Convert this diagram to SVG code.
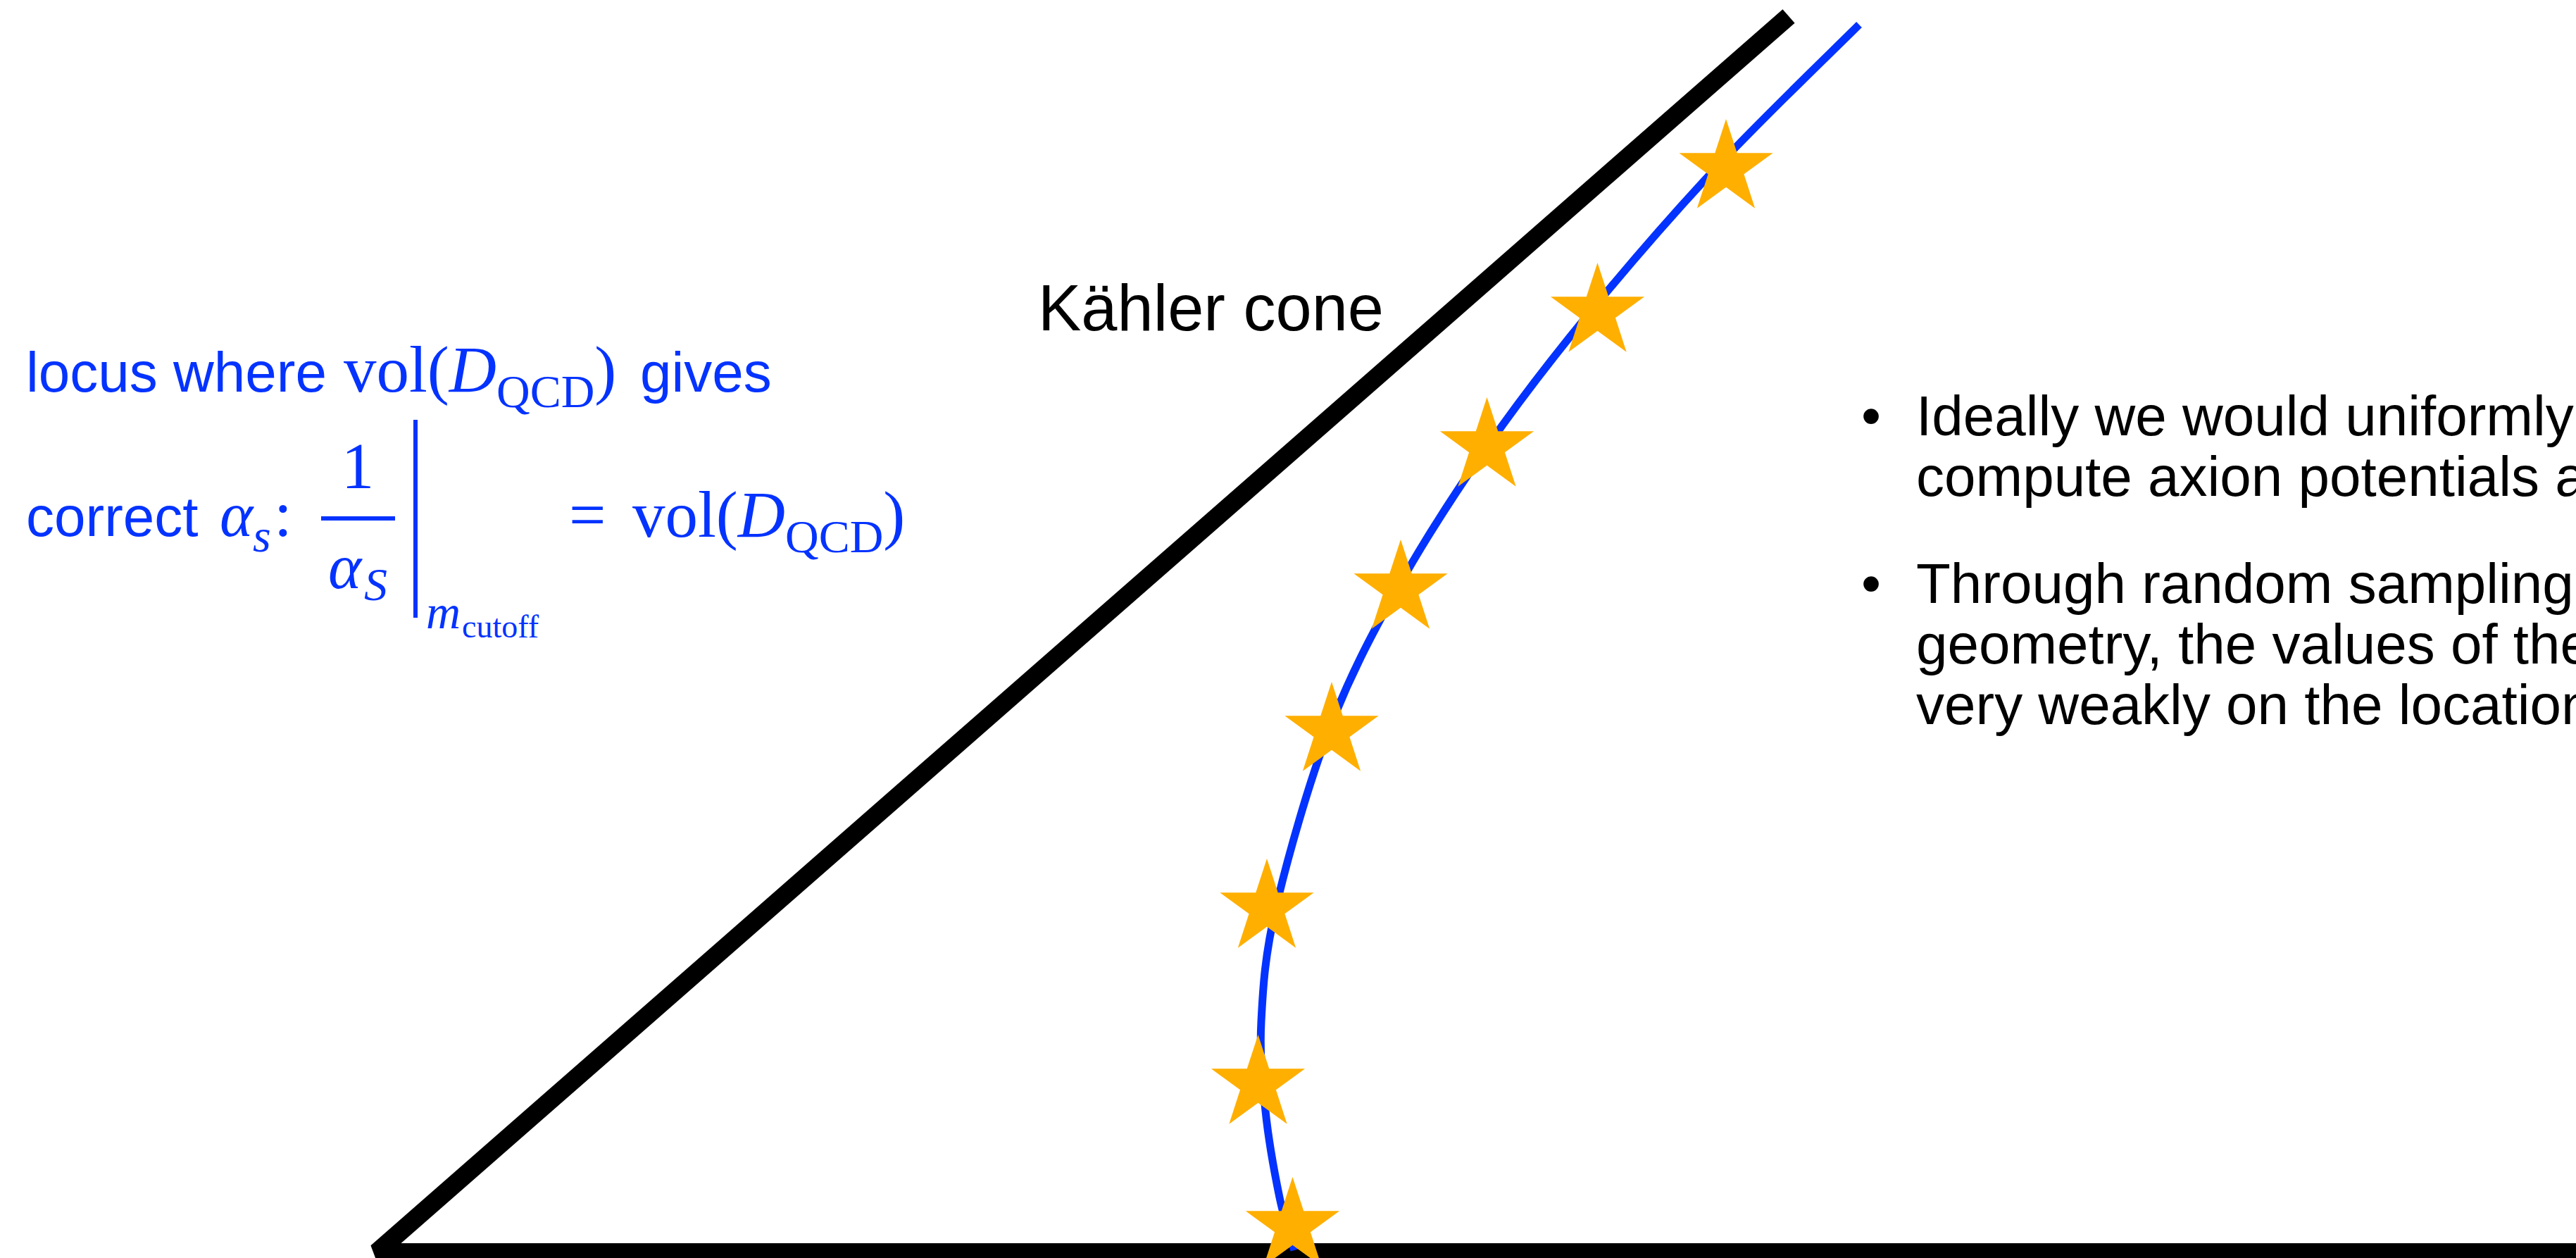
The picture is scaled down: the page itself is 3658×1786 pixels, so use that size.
<svg xmlns="http://www.w3.org/2000/svg" xmlns:xlink="http://www.w3.org/1999/xlink" width="3658" height="1786" viewBox="0 0 3658 1786">
<style>
.sans{font-family:"Liberation Sans",Arial,sans-serif;}
.serif{font-family:"Liberation Serif","Times New Roman",serif;}
.it{font-style:italic;}
.blue{fill:#0433FF;}
.blk{fill:#000000;}
.cone{fill:none;stroke:#000;stroke-width:26;stroke-linejoin:bevel;}
.locus{fill:none;stroke:#0433FF;stroke-width:11;stroke-linecap:butt;}
.star{fill:#FFAF00;}
</style>
<defs>
<polygon id="star" points="0,-70 15.72,-21.63 66.57,-21.63 25.43,8.26 41.14,56.63 0,26.74 -41.14,56.63 -25.43,8.26 -66.57,-21.63 -15.72,-21.63"/>
</defs>
<rect width="3658" height="1786" fill="#ffffff"/>

<g id="connectors">
<polyline id="kahler-cone-boundary" class="cone" points="2540,23 535,1778 3700,1778"/>
<path id="locus-curve" class="locus" d="M2640,35 C2606.7,68.3 2503.7,167 2440,235 C2376.3,303 2312.7,376.5 2258,443 C2203.3,509.5 2157.7,568.5 2112,634 C2066.3,699.5 2021.5,768.8 1984,836 C1946.5,903.2 1915.7,961.7 1887,1037 C1858.3,1112.3 1828,1219.2 1812,1288 C1796,1356.8 1793.5,1401.8 1791,1450 C1788.5,1498.2 1792.7,1535.3 1797,1577 C1801.3,1618.7 1810.3,1667.5 1817,1700 C1823.7,1732.5 1834,1762 1838,1775"/>
</g>

<g id="stars">
<use xlink:href="#star" class="star" x="2451" y="239"/>
<use xlink:href="#star" class="star" x="2268.5" y="443"/>
<use xlink:href="#star" class="star" x="2111.5" y="634"/>
<use xlink:href="#star" class="star" x="1989" y="836"/>
<use xlink:href="#star" class="star" x="1891" y="1038"/>
<use xlink:href="#star" class="star" x="1799" y="1289"/>
<use xlink:href="#star" class="star" x="1786.5" y="1539"/>
<use xlink:href="#star" class="star" x="1835.5" y="1741"/>
</g>

<g id="kahler-label">
<text class="sans blk" x="1474" y="469" font-size="92">Kähler cone</text>
</g>

<g id="locus-label">
<text class="sans blue" x="37" y="556" font-size="80">locus where</text>
<text class="serif blue" x="488" y="556" font-size="93">vol(<tspan class="it">D</tspan><tspan font-size="66" dy="22">QCD</tspan><tspan dy="-22">)</tspan></text>
<text class="sans blue" x="909" y="556" font-size="80">gives</text>

<text class="sans blue" x="37" y="761" font-size="80">correct</text>
<text class="serif it blue" x="312" y="761" font-size="90">α</text>
<text class="serif it blue" x="359" y="783" font-size="66">s</text>
<text class="serif blue" x="389" y="761" font-size="93">:</text>
<text class="serif blue" x="508" y="693" font-size="93" text-anchor="middle">1</text>
<rect class="blue" x="456" y="733" width="105" height="6"/>
<text class="serif it blue" x="466" y="835" font-size="90">α</text>
<text class="serif it blue" x="517" y="852" font-size="66">S</text>
<rect class="blue" x="587" y="596" width="6" height="281"/>
<text class="serif it blue" x="605" y="892" font-size="68">m</text>
<text class="serif blue" x="656" y="905" font-size="46">cutoff</text>
<text class="serif blue" x="808" y="762" font-size="93">=</text>
<text class="serif blue" x="898" y="762" font-size="93">vol(<tspan class="it">D</tspan><tspan font-size="66" dy="22">QCD</tspan><tspan dy="-22">)</tspan></text>
</g>

<g id="bullets">
<text class="sans blk" x="2643" y="618" font-size="80">•</text>
<text class="sans blk" x="2721" y="618" font-size="80">Ideally we would uniformly</text>
<text class="sans blk" x="2721" y="704" font-size="80">compute axion potentials a</text>
<text class="sans blk" x="2643" y="856" font-size="80">•</text>
<text class="sans blk" x="2721" y="856" font-size="80">Through random sampling</text>
<text class="sans blk" x="2721" y="942" font-size="80">geometry, the values of the</text>
<text class="sans blk" x="2721" y="1028" font-size="80">very weakly on the location</text>
</g>
</svg>
